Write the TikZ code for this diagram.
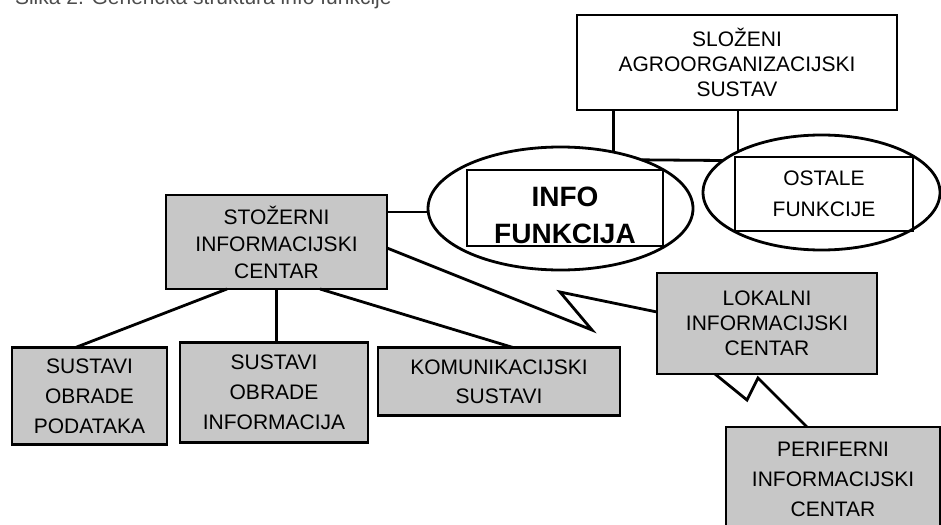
\documentclass[tikz,border=0pt]{standalone}
\usepackage{fontspec}
\setmainfont{Liberation Sans}
\usetikzlibrary{shapes.geometric,calc}
\begin{document}
\begin{tikzpicture}[x=1pt,y=-1pt,
  every node/.style={inner sep=0pt, outer sep=0pt},
  box/.style={draw, line width=2.8pt, rectangle, align=center, font=\fontsize{21}{27}\selectfont},
  gbox/.style={box, fill=black!22},
  oval/.style={draw, line width=2.8pt, ellipse},
  conn/.style={line width=2.8pt, line join=miter}]
\useasboundingbox (0,0) rectangle (941,524);
\clip (0,0) rectangle (941,524);
% caption (cut off at the top)
\node[anchor=base west, text=black!70, font=\fontsize{21}{27}\selectfont] (cap) at (15,5) {Slika 2. Generička struktura info funkcije};
% top box
\node[box, minimum width=320pt, minimum height=95pt, font=\fontsize{21}{25}\selectfont] (top) at (737,62.5) {SLOŽENI\\AGROORGANIZACIJSKI\\SUSTAV};
% ellipses
\node[oval, minimum width=265pt, minimum height=123pt] (infoE) at (560.5,208.5) {};
\node[box, minimum width=196pt, minimum height=76pt] (info) at (565,208) {};
\node[align=center, font=\bfseries\fontsize{28}{37}\selectfont] (infoT) at (565,215) {INFO\\FUNKCIJA};
\node[oval, minimum width=237pt, minimum height=115pt] (ostE) at (821.5,192.5) {};
\node[box, minimum width=178pt, minimum height=74pt, font=\fontsize{21}{31}\selectfont] (ost) at (824,194) {OSTALE\\FUNKCIJE};
% grey boxes
\node[gbox, minimum width=221pt, minimum height=94pt] (stoz) at (276.5,242) {STOŽERNI\\INFORMACIJSKI\\CENTAR};
\node[gbox, minimum width=220pt, minimum height=101pt, font=\fontsize{21}{25}\selectfont] (lok) at (767,323.5) {LOKALNI\\INFORMACIJSKI\\CENTAR};
\node[gbox, minimum width=155pt, minimum height=97pt, font=\fontsize{21}{30}\selectfont] (s1) at (89.5,396) {SUSTAVI\\OBRADE\\PODATAKA};
\node[gbox, minimum width=188pt, minimum height=100pt, font=\fontsize{21}{30}\selectfont] (s2) at (274,392.5) {SUSTAVI\\OBRADE\\INFORMACIJA};
\node[gbox, minimum width=242pt, minimum height=68pt, font=\fontsize{21}{29}\selectfont] (kom) at (499,381.5) {KOMUNIKACIJSKI\\SUSTAVI};
\node[gbox, minimum width=214pt, minimum height=104pt, font=\fontsize{21}{30}\selectfont] (per) at (833,479) {PERIFERNI\\INFORMACIJSKI\\CENTAR};
% connectors
\draw[conn] (top.south -| infoE.47) -- (infoE.47);
\draw[conn] (top.south -| ostE.154) -- (ostE.154);
\draw[conn] (infoE.31) -- (ostE.162);
\draw[conn] ([yshift=30pt]stoz.east) -- ([yshift=30pt]stoz.east -| infoE.west);
\draw[conn] ([xshift=61pt]stoz.south west) -- ([xshift=-14pt]s1.north);
\draw[conn] (stoz.south) -- (stoz.south |- s2.north);
\draw[conn] ([xshift=43.5pt]stoz.south) -- ([xshift=14pt]kom.north);
\draw[conn] ([yshift=-6pt]stoz.east) -- (592,330) -- (560,292) -- ([yshift=11.5pt]lok.west);
\draw[conn] ([xshift=-52pt]lok.south) -- (747,400) -- (758,378) -- ([xshift=-26pt]per.north);
\end{tikzpicture}
\end{document}
